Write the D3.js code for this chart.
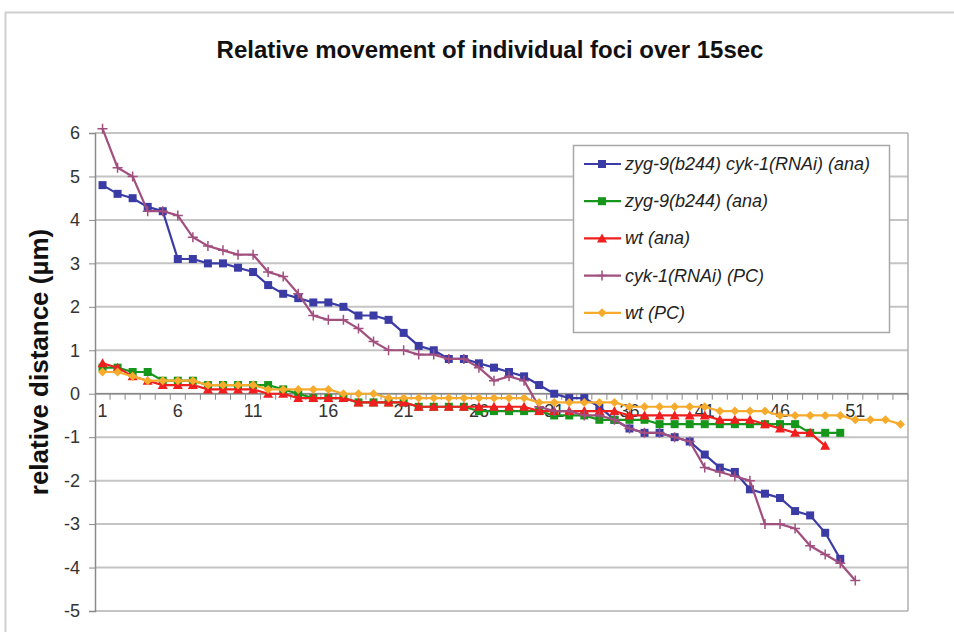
<!DOCTYPE html>
<html lang="en">
<head>
    <meta charset="UTF-8">
    <title>Relative movement of individual foci</title>
    <style>
        body, html {
            margin: 0;
            padding: 0;
            background-color: #ffffff;
            overflow: hidden;
        }
        svg {
            font-family: "Liberation Sans", Arial, sans-serif;
        }
        .grid line {
            stroke: #c4c4c4;
            stroke-width: 2px;
        }
        .tick-label {
            font-size: 18px;
            fill: #333;
        }
        .legend text {
            font-size: 18px;
            font-style: italic;
            fill: #222;
        }
    </style>
</head>
<body>
    <div id="chart"></div>

    <script src="https://d3js.org/d3.v7.min.js"></script>
    <script>
        // values
        const categories = d3.range(1, 55);  // 54 foci
        const xLabels = [1, 6, 11, 16, 21, 26, 31, 36, 41, 46, 51];
        const yTicks = [6, 5, 4, 3, 2, 1, 0, -1, -2, -3, -4, -5];

        const zygCykAna = [4.8, 4.6, 4.5, 4.3, 4.2, 3.1, 3.1, 3.0, 3.0, 2.9,
            2.8, 2.5, 2.3, 2.2, 2.1, 2.1, 2.0, 1.8, 1.8, 1.7,
            1.4, 1.1, 1.0, 0.8, 0.8, 0.7, 0.6, 0.5, 0.4, 0.2,
            0.0, -0.1, -0.1, -0.3, -0.6, -0.8, -0.9, -0.9, -1.0, -1.1,
            -1.4, -1.7, -1.8, -2.2, -2.3, -2.4, -2.7, -2.8, -3.2, -3.8];

        const zygAna = [0.6, 0.6, 0.5, 0.5, 0.3, 0.3, 0.3, 0.2, 0.2, 0.2,
            0.2, 0.2, 0.1, 0.0, -0.1, -0.1, -0.1, -0.2, -0.2, -0.2,
            -0.2, -0.3, -0.3, -0.3, -0.3, -0.4, -0.4, -0.4, -0.4, -0.4,
            -0.5, -0.5, -0.5, -0.6, -0.6, -0.6, -0.6, -0.7, -0.7, -0.7,
            -0.7, -0.7, -0.7, -0.7, -0.7, -0.7, -0.7, -0.9, -0.9, -0.9];

        const wtAna = [0.7, 0.6, 0.4, 0.3, 0.2, 0.2, 0.2, 0.1, 0.1, 0.1,
            0.1, 0.0, 0.0, -0.1, -0.1, -0.1, -0.1, -0.2, -0.2, -0.2,
            -0.2, -0.3, -0.3, -0.3, -0.3, -0.3, -0.3, -0.3, -0.3, -0.4,
            -0.4, -0.4, -0.4, -0.4, -0.4, -0.5, -0.5, -0.5, -0.5, -0.5,
            -0.5, -0.6, -0.6, -0.6, -0.7, -0.8, -0.9, -0.9, -1.2];

        const cykPC = [6.1, 5.2, 5.0, 4.2, 4.2, 4.1, 3.6, 3.4, 3.3, 3.2,
            3.2, 2.8, 2.7, 2.3, 1.8, 1.7, 1.7, 1.5, 1.2, 1.0,
            1.0, 0.9, 0.9, 0.8, 0.8, 0.6, 0.3, 0.4, 0.3, -0.3,
            -0.4, -0.4, -0.5, -0.5, -0.6, -0.8, -0.9, -0.9, -1.0, -1.1,
            -1.7, -1.8, -1.9, -2.0, -3.0, -3.0, -3.1, -3.5, -3.7, -3.9,
            -4.3];

        const wtPC = [0.5, 0.5, 0.4, 0.3, 0.3, 0.3, 0.3, 0.2, 0.2, 0.2,
            0.2, 0.1, 0.1, 0.1, 0.1, 0.1, 0.0, 0.0, 0.0, -0.1,
            -0.1, -0.1, -0.1, -0.1, -0.1, -0.1, -0.1, -0.1, -0.1, -0.2,
            -0.2, -0.2, -0.2, -0.2, -0.2, -0.3, -0.3, -0.3, -0.3, -0.3,
            -0.3, -0.4, -0.4, -0.4, -0.4, -0.5, -0.5, -0.5, -0.5, -0.5,
            -0.6, -0.6, -0.6, -0.7];

        const seriesNames = ['zyg-9(b244) cyk-1(RNAi) (ana)', 'zyg-9(b244) (ana)', 'wt (ana)', 'cyk-1(RNAi) (PC)', 'wt (PC)'];
        const seriesValues = [zygCykAna, zygAna, wtAna, cykPC, wtPC];
        const seriesColors = ['#3b3ba6', '#17961c', '#f01e1e', '#a14f7f', '#f7ab2d'];
        const seriesMarkers = ['square', 'square', 'triangle', 'plus', 'diamond'];

        const width = 954, height = 632;
        const plot = { left: 95, right: 908, top: 133, bottom: 611 };

        const svg = d3.select('#chart').append('svg')
            .attr('width', width)
            .attr('height', height);

        svg.append('rect')
            .attr('width', width).attr('height', height)
            .attr('fill', '#fff');

        // chart outer border
        svg.append('rect')
            .attr('x', 5.5).attr('y', 12.5)
            .attr('width', 980).attr('height', 640)
            .attr('fill', 'none')
            .attr('stroke', '#cfcfcf')
            .attr('stroke-width', 2);

        const x = d3.scaleBand()
            .domain(categories)
            .range([plot.left, plot.right]);

        const y = d3.scaleLinear()
            .domain([-5, 6])
            .range([plot.bottom, plot.top]);

        const cx = d => x(d) + x.bandwidth() / 2;

        // title
        svg.append('text')
            .attr('x', 490)
            .attr('y', 58)
            .attr('text-anchor', 'middle')
            .attr('font-size', '24px')
            .attr('font-weight', 'bold')
            .attr('fill', '#111')
            .text('Relative movement of individual foci over 15sec');

        // horizontal gridlines
        svg.append('g')
            .attr('class', 'grid')
            .selectAll('line')
            .data(yTicks)
            .enter().append('line')
            .attr('x1', plot.left)
            .attr('x2', plot.right)
            .attr('y1', d => y(d))
            .attr('y2', d => y(d));

        // right border of plot area
        svg.append('line')
            .attr('x1', plot.right).attr('x2', plot.right)
            .attr('y1', plot.top).attr('y2', plot.bottom)
            .attr('stroke', '#b0b0b0')
            .attr('stroke-width', 1.5);

        // y axis
        const yAxis = d3.axisLeft(y)
            .tickValues(yTicks)
            .tickSize(6)
            .tickPadding(9)
            .tickFormat(d3.format('d'));

        const yg = svg.append('g')
            .attr('transform', `translate(${plot.left},0)`)
            .call(yAxis);
        yg.select('.domain').attr('stroke', '#8a8a8a').attr('stroke-width', 1.5);
        yg.selectAll('.tick line').attr('stroke', '#8a8a8a');
        yg.selectAll('.tick text')
            .attr('class', 'tick-label')
            .attr('font-family', null)
            .attr('font-size', null)
            .attr('fill', null)
            .text(d => d < 0 ? '-' + Math.abs(d) : d);

        // x axis at y = 0, ticks between categories
        const xg = svg.append('g')
            .attr('transform', `translate(0,${y(0)})`);
        xg.append('line')
            .attr('x1', plot.left).attr('x2', plot.right)
            .attr('stroke', '#8a8a8a')
            .attr('stroke-width', 1.5);
        xg.selectAll('line.tk')
            .data(categories)
            .enter().append('line')
            .attr('class', 'tk')
            .attr('x1', d => x(d) + x.bandwidth())
            .attr('x2', d => x(d) + x.bandwidth())
            .attr('y1', 0).attr('y2', 6)
            .attr('stroke', '#8a8a8a');
        xg.selectAll('text')
            .data(xLabels)
            .enter().append('text')
            .attr('class', 'tick-label')
            .attr('x', d => cx(d))
            .attr('y', 23)
            .attr('text-anchor', 'middle')
            .text(d => d);

        // y axis title
        svg.append('text')
            .attr('transform', 'translate(48,362) rotate(-90)')
            .attr('text-anchor', 'middle')
            .attr('font-size', '26px')
            .attr('font-weight', 'bold')
            .attr('fill', '#111')
            .text('relative distance (µm)');

        function drawMarker(g, type, color) {
            if (type === 'square') {
                g.append('rect').attr('x', -4).attr('y', -4).attr('width', 8).attr('height', 8)
                    .attr('fill', color);
            } else if (type === 'triangle') {
                g.append('path').attr('d', 'M0,-5L5,4L-5,4Z').attr('fill', color);
            } else if (type === 'diamond') {
                g.append('path').attr('d', 'M0,-4.5L4.5,0L0,4.5L-4.5,0Z').attr('fill', color);
            } else if (type === 'plus') {
                g.append('path').attr('d', 'M-5,0H5M0,-5V5')
                    .attr('stroke', color).attr('stroke-width', 1.5);
            }
        }

        const line = d3.line()
            .x((d, i) => cx(categories[i]))
            .y(d => y(d));

        seriesValues.forEach((vals, s) => {
            const g = svg.append('g');
            g.append('path')
                .datum(vals)
                .attr('fill', 'none')
                .attr('stroke', seriesColors[s])
                .attr('stroke-width', 2.2)
                .attr('d', line);
            g.selectAll('g.pt')
                .data(vals)
                .enter().append('g')
                .attr('class', 'pt')
                .attr('transform', (d, i) => `translate(${cx(categories[i])},${y(d)})`)
                .each(function() { drawMarker(d3.select(this), seriesMarkers[s], seriesColors[s]); });
        });

        // legend
        const legend = svg.append('g').attr('class', 'legend');
        legend.append('rect')
            .attr('x', 573.5).attr('y', 145.5)
            .attr('width', 316).attr('height', 187)
            .attr('fill', '#fff')
            .attr('stroke', '#a8a8a8')
            .attr('stroke-width', 1.5);

        const item = legend.selectAll('g.item')
            .data(seriesNames)
            .enter().append('g')
            .attr('class', 'item')
            .attr('transform', (d, i) => `translate(0,${164 + i * 37.2})`);
        item.append('line')
            .attr('x1', 584).attr('x2', 621)
            .attr('stroke', (d, i) => seriesColors[i])
            .attr('stroke-width', 2.2);
        item.append('g')
            .attr('transform', 'translate(602,0)')
            .each(function(d, i) { drawMarker(d3.select(this), seriesMarkers[i], seriesColors[i]); });
        item.append('text')
            .attr('x', 625)
            .attr('y', 6)
            .text(d => d);
    </script>
</body>
</html>
